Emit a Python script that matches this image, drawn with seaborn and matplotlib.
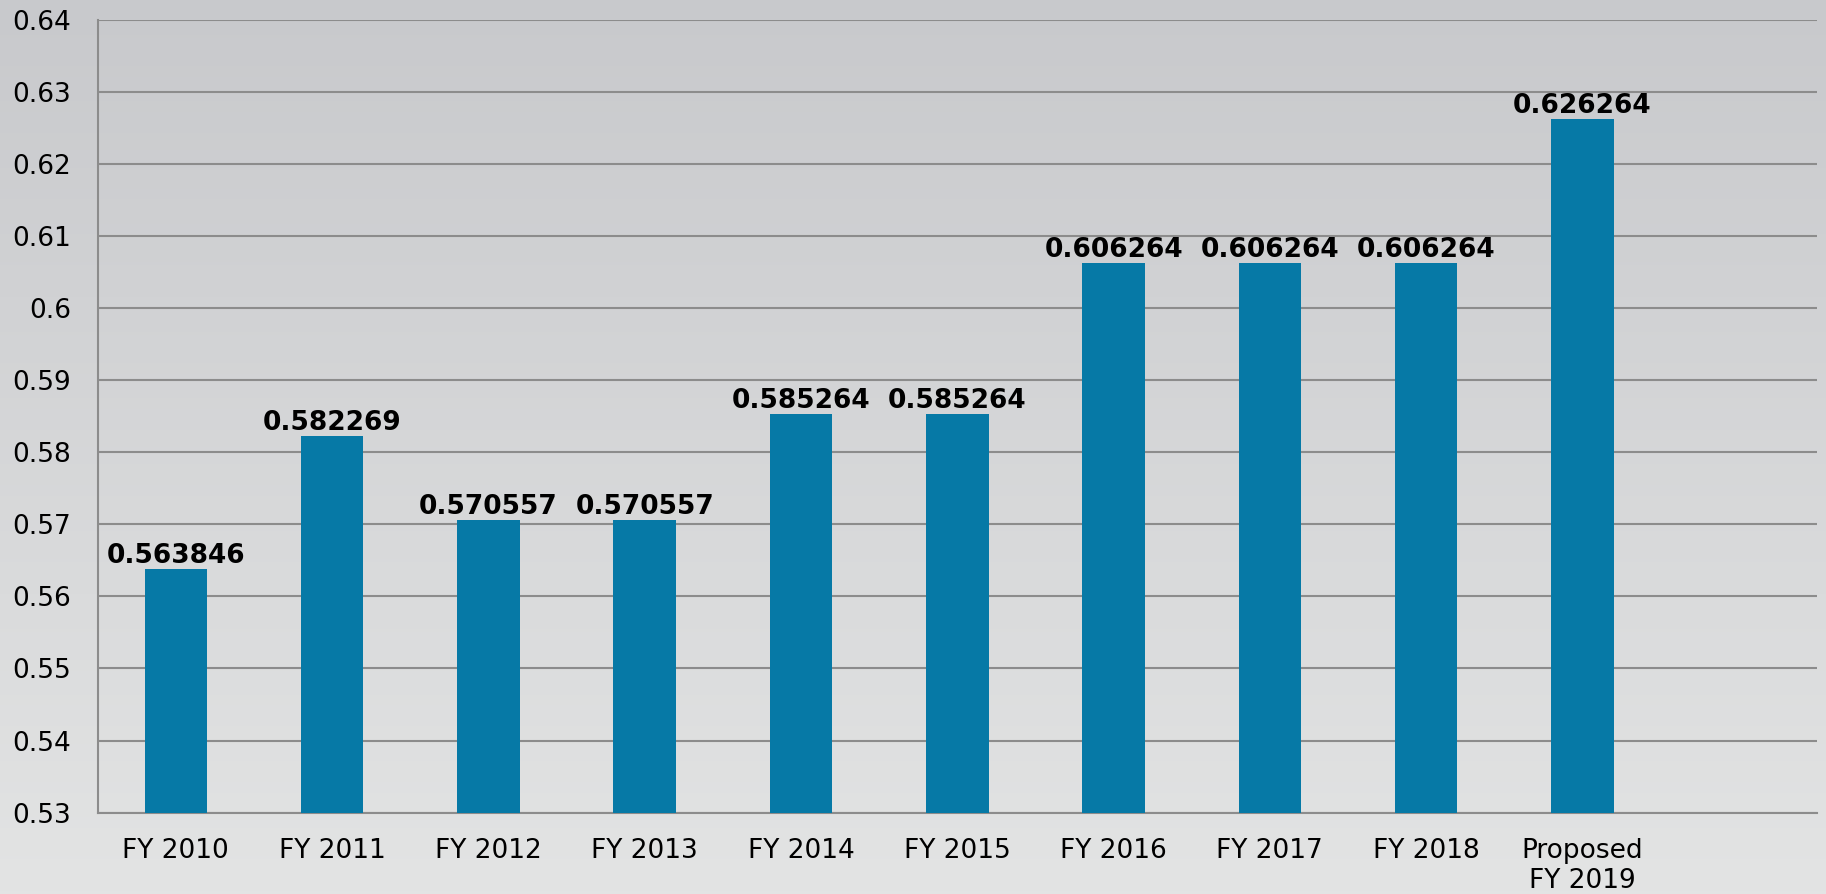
import matplotlib.pyplot as plt
import seaborn as sns
import numpy as np
import pandas as pd

# ---------------------------------------------------
# Data
# ---------------------------------------------------

years = ["FY 2010", "FY 2011", "FY 2012", "FY 2013", "FY 2014",
         "FY 2015", "FY 2016", "FY 2017", "FY 2018", "Proposed\nFY 2019"]
rates = [0.563846, 0.582269, 0.570557, 0.570557, 0.585264,
         0.585264, 0.606264, 0.606264, 0.606264, 0.626264]
y_ticks = [0.53, 0.54, 0.55, 0.56, 0.57, 0.58, 0.59, 0.60, 0.61, 0.62, 0.63, 0.64]
y_tick_labels = ["0.53", "0.54", "0.55", "0.56", "0.57", "0.58",
                 "0.59", "0.6", "0.61", "0.62", "0.63", "0.64"]

df = pd.DataFrame({"year": years, "rate": rates})

sns.set_style("white")
plt.rcParams["font.family"] = ["DejaVu Sans"]

fig = plt.figure(figsize=(18.26, 8.94), dpi=100)

# background gradient (darker at the top)
bg = fig.add_axes([0, 0, 1, 1], zorder=0)
grad = np.linspace(0, 1, 256).reshape(-1, 1)
bg.imshow(grad, aspect="auto", cmap=sns.blend_palette(["#e3e4e4", "#c8c9cc"], as_cmap=True),
          origin="lower", extent=[0, 1, 0, 1])
bg.axis("off")

ax = fig.add_axes([0.0535, 0.091, 0.9415, 0.887], zorder=1)
ax.patch.set_alpha(0)

sns.barplot(data=df, x="year", y="rate", color="#0679a6", saturation=1,
            width=0.4, ax=ax, zorder=3, edgecolor="none", linewidth=0)

ax.set_xlim(-0.5, 10.5)
ax.set_ylim(0.53, 0.64)
ax.set_yticks(y_ticks)
ax.set_yticklabels(y_tick_labels)
ax.yaxis.grid(True, color="#8c8c8c", linewidth=1.5)
ax.set_axisbelow(True)

# value labels
for bar, val in zip(ax.patches, rates):
    ax.annotate(f"{val:g}", (bar.get_x() + bar.get_width() / 2, bar.get_height()),
                xytext=(0, 0), textcoords="offset points",
                ha="center", va="bottom", fontsize=19, fontweight="bold", color="black")

# tick marks between categories
ax.set_xticks(np.arange(-0.5, 11, 1), minor=True)
ax.tick_params(axis="x", which="major", length=0, labelsize=19, pad=18, labelcolor="black")
ax.tick_params(axis="x", which="minor", length=6, width=1.5, color="#8c8c8c", direction="out")
ax.tick_params(axis="y", length=6, width=1.5, color="#8c8c8c", labelsize=19, pad=13,
               direction="out", labelcolor="black")

for s in ["top", "right"]:
    ax.spines[s].set_visible(False)
for s in ["left", "bottom"]:
    ax.spines[s].set_color("#8c8c8c")
    ax.spines[s].set_linewidth(1.5)

ax.set_xlabel("")
ax.set_ylabel("")

fig.savefig("out.png", dpi=100)
